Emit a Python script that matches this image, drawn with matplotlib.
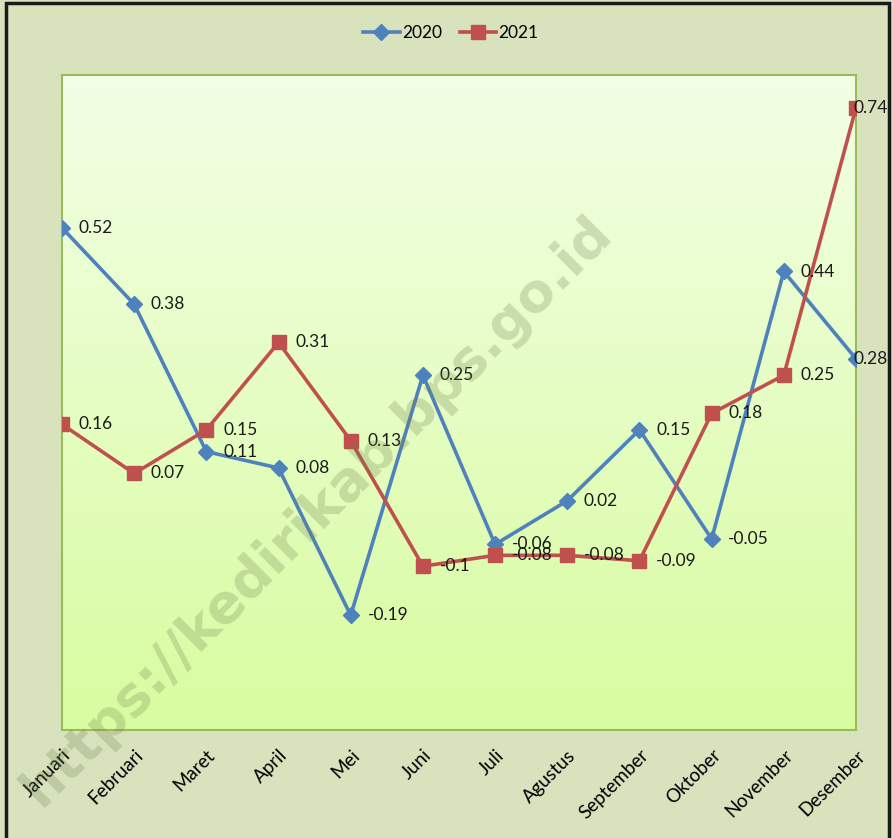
import matplotlib
matplotlib.use("Agg")
import matplotlib.pyplot as plt
import numpy as np
from matplotlib.patches import Rectangle

months = ["Januari", "Februari", "Maret", "April", "Mei", "Juni", "Juli",
          "Agustus", "September", "Oktober", "November", "Desember"]
y2020 = [0.52, 0.38, 0.11, 0.08, -0.19, 0.25, -0.06, 0.02, 0.15, -0.05, 0.44, 0.28]
y2021 = [0.16, 0.07, 0.15, 0.31, 0.13, -0.1, -0.08, -0.08, -0.09, 0.18, 0.25, 0.74]

BLUE = "#4F81BD"
RED = "#C0504D"
BG = "#D8E3BE"
FONT = ["Lato", "DejaVu Sans"]

fig = plt.figure(figsize=(8.93, 8.38), dpi=100)
fig.patch.set_facecolor(BG)

ax = fig.add_axes([62 / 893, 1 - 730 / 838, 794 / 893, 655 / 838])
ax.set_xlim(0, 11)
ax.set_ylim(-0.4, 0.8)

# gradient plot area
grad = np.linspace(0, 1, 256).reshape(-1, 1)
top = np.array([243, 255, 230]) / 255
bot = np.array([216, 252, 160]) / 255
img = top + (bot - top) * grad[:, :, None]
ax.imshow(img, extent=[0, 11, -0.4, 0.8], aspect="auto", origin="upper", zorder=0)

x = np.arange(len(months))
ax.plot(x, y2020, color=BLUE, lw=2.6, marker="D", ms=8.5, label="2020", zorder=3)
ax.plot(x, y2021, color=RED, lw=2.6, marker="s", ms=10.5, label="2021", zorder=3)

for series in (y2020, y2021):
    for i, v in enumerate(series):
        dx = 12 if i < len(series) - 1 else -2
        ax.annotate(f"{v:g}", (i, v), xytext=(dx, 0), textcoords="offset points",
                    ha="left", va="center", fontsize=12.5, color="#1a1a1a",
                    family=FONT, zorder=4, annotation_clip=False)

for s in ax.spines.values():
    s.set_color("#9BBB59")
    s.set_linewidth(1.5)
ax.set_yticks([])
ax.set_xticks(x)
ax.set_xticklabels(months, rotation=45, ha="right", rotation_mode="anchor",
                   fontsize=13.5, family=FONT)
ax.tick_params(axis="x", length=0, pad=12)

leg = fig.legend(loc="center", bbox_to_anchor=(0.505, 1 - 33 / 838), ncol=2,
                 frameon=False, prop={"family": FONT, "size": 12.5},
                 handlelength=2.1, columnspacing=1.0, handletextpad=0.15)

# watermark
fig.text(0.355, 0.39, "https://kedirikab.bps.go.id", rotation=45,
         fontsize=39, fontweight="bold", color="#6f7f50", alpha=0.26,
         ha="center", va="center", zorder=10)

# outer border
fig.patches.append(Rectangle((6 / 893, -0.01), 883 / 893, 1 - 3 / 838 + 0.01,
                             transform=fig.transFigure, fill=False,
                             edgecolor="#1a1a1a", lw=2.5))

fig.savefig("out.png", dpi=100, facecolor=BG)
